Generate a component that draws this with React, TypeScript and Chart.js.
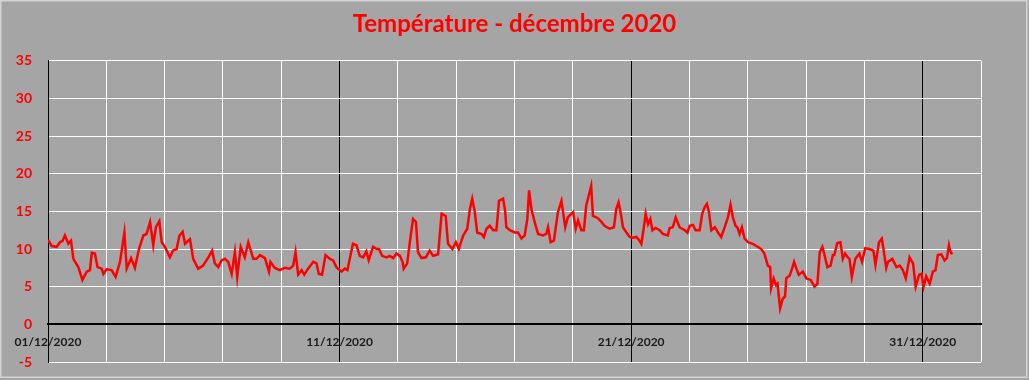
import React, { useEffect, useRef } from "react";
import { Chart, registerables } from "chart.js";

Chart.register(...registerables);

const chartTitle = "Température - décembre 2020";
const dateLabels = ["01/12/2020", "11/12/2020", "21/12/2020", "31/12/2020"];

// time in days since 01/12/2020 00:00
const days = [
  0.00, 0.13, 0.30, 0.41, 0.50, 0.58, 0.70, 0.79, 0.87, 1.04, 1.18, 1.33, 1.44, 1.50, 1.61, 1.70, 1.84, 1.90,
  2.01, 2.18, 2.32, 2.47, 2.62, 2.70, 2.85, 2.98, 3.12, 3.27, 3.38, 3.50, 3.61, 3.70, 3.82, 3.90,
  4.01, 4.18, 4.29, 4.41, 4.51, 4.62, 4.70, 4.87, 4.98, 5.15, 5.32, 5.50, 5.63, 5.72, 5.84, 5.95,
  6.07, 6.18, 6.30, 6.41, 6.49, 6.61, 6.75, 6.87, 7.04, 7.15, 7.27, 7.44, 7.58, 7.63, 7.78, 7.95,
  8.12, 8.29, 8.41, 8.49, 8.58, 8.70, 8.79, 8.92, 9.10, 9.21, 9.29, 9.40, 9.52, 9.67, 9.78, 9.89,
  10.07, 10.18, 10.27, 10.35, 10.46, 10.58, 10.69, 10.81, 10.92, 11.00, 11.15, 11.27, 11.35, 11.46, 11.61, 11.72, 11.84, 11.95,
  12.07, 12.16, 12.20, 12.32, 12.41, 12.52, 12.62, 12.69, 12.81, 12.96, 13.09, 13.21, 13.38, 13.50, 13.64, 13.72, 13.87, 13.99,
  14.09, 14.24, 14.38, 14.47, 14.55, 14.64, 14.72, 14.87, 14.95, 15.04, 15.15, 15.27, 15.38, 15.47, 15.61, 15.68, 15.72, 15.84,
  16.01, 16.12, 16.24, 16.35, 16.44, 16.50, 16.58, 16.69, 16.81, 16.98, 17.09, 17.15, 17.24, 17.35, 17.49, 17.61, 17.74, 17.83, 17.95,
  18.01, 18.10, 18.18, 18.29, 18.38, 18.46, 18.63, 18.69, 18.86, 18.98, 19.09, 19.26, 19.41, 19.49, 19.57, 19.66, 19.72, 19.84, 19.95,
  20.06, 20.18, 20.29, 20.35, 20.43, 20.50, 20.58, 20.66, 20.73, 20.84, 20.98, 21.09, 21.26, 21.32, 21.43, 21.53, 21.66, 21.84, 21.93,
  22.01, 22.12, 22.21, 22.35, 22.44, 22.53, 22.60, 22.67, 22.75, 22.87, 22.98, 23.09, 23.21, 23.32, 23.41, 23.49, 23.58, 23.64, 23.72, 23.80, 23.89,
  24.01, 24.17, 24.34, 24.46, 24.57, 24.69, 24.77, 24.80, 24.89, 24.97, 25.02, 25.11, 25.20, 25.28, 25.32, 25.44, 25.52, 25.59, 25.67, 25.75, 25.89,
  26.01, 26.16, 26.29, 26.39, 26.47, 26.56, 26.64, 26.73, 26.84, 26.92, 26.97, 27.07, 27.18, 27.26, 27.34, 27.43, 27.49, 27.57, 27.69, 27.83, 27.92,
  28.03, 28.17, 28.31, 28.38, 28.50, 28.60, 28.67, 28.75, 28.81, 28.96, 29.10, 29.21, 29.32, 29.42, 29.55, 29.67, 29.76, 29.88, 29.96,
  30.03, 30.12, 30.24, 30.35, 30.44, 30.52, 30.64, 30.75, 30.83, 30.90, 30.94, 31.01,
];

const temps = [
  11.2, 10.4, 10.3, 10.9, 11.1, 11.8, 10.7, 11.1, 8.7, 7.6, 5.9, 7.0, 7.2, 9.5, 9.4, 7.6, 7.4, 6.7,
  7.3, 7.2, 6.3, 8.3, 12.2, 7.4, 8.8, 7.5, 10.0, 11.8, 12.0, 13.6, 10.5, 12.9, 13.7, 10.9,
  10.3, 8.9, 9.8, 10.0, 11.8, 12.3, 10.7, 11.3, 8.7, 7.4, 7.8, 8.9, 9.8, 8.1, 7.6, 8.5,
  8.7, 8.3, 6.7, 9.6, 6.3, 10.3, 8.9, 10.9, 8.7, 8.7, 9.2, 8.8, 7.0, 8.3, 7.5, 7.2,
  7.5, 7.4, 7.8, 9.6, 6.6, 7.2, 6.6, 7.4, 8.3, 8.1, 6.7, 6.6, 9.2, 8.7, 8.5, 7.6,
  7.0, 7.4, 7.2, 8.7, 10.7, 10.5, 9.1, 8.9, 9.7, 8.5, 10.3, 10.0, 10.0, 9.1, 8.9, 9.1, 8.8, 9.4,
  9.1, 8.3, 7.4, 8.1, 10.9, 14.0, 13.6, 9.6, 8.8, 8.9, 9.8, 9.1, 9.3, 14.7, 14.4, 10.7, 10.0, 10.9,
  10.0, 11.8, 12.7, 15.3, 16.7, 14.9, 12.2, 12.0, 11.6, 12.7, 13.1, 12.5, 12.5, 16.4, 16.7, 15.0, 12.9, 12.5,
  12.2, 12.2, 11.4, 11.8, 14.0, 17.8, 15.3, 13.6, 12.0, 11.8, 12.0, 12.9, 10.9, 11.1, 14.9, 16.4, 12.9, 14.2, 14.7,
  14.9, 12.7, 13.8, 12.5, 12.5, 15.8, 18.4, 14.4, 14.1, 13.6, 13.1, 12.7, 12.9, 15.3, 16.2, 14.4, 12.9, 12.2, 11.6,
  11.5, 11.6, 11.1, 10.7, 12.7, 14.7, 13.3, 14.0, 12.5, 12.8, 12.5, 12.0, 11.8, 12.8, 12.9, 14.2, 12.9, 12.5, 12.2,
  13.1, 13.2, 12.5, 12.5, 14.7, 15.6, 16.0, 14.9, 12.5, 12.9, 12.2, 11.6, 12.9, 14.2, 15.9, 14.2, 13.1, 12.9, 12.0, 12.9, 11.4,
  10.9, 10.7, 10.3, 10.0, 9.4, 7.8, 7.6, 4.8, 6.1, 5.2, 5.4, 2.1, 3.4, 3.7, 6.1, 6.5, 7.4, 8.3, 7.4, 6.6, 7.0,
  6.1, 5.9, 5.0, 5.4, 9.6, 10.3, 9.1, 7.6, 7.8, 9.2, 9.2, 10.8, 10.9, 8.7, 9.4, 8.9, 8.7, 6.3, 8.7, 9.4, 8.3,
  10.1, 10.0, 9.8, 7.9, 10.9, 11.4, 9.6, 7.5, 8.3, 8.7, 7.6, 7.8, 7.2, 6.1, 8.9, 8.1, 5.0, 6.6, 6.7,
  5.0, 6.4, 5.4, 7.0, 7.2, 9.2, 9.3, 8.5, 8.8, 10.5, 9.8, 9.3,
];

const W = 1029;
const H = 380;

const backgroundPlugin = {
  id: "bg",
  beforeDraw(chart: any) {
    const ctx = chart.ctx;
    ctx.save();
    ctx.fillStyle = "#a5a5a5";
    ctx.fillRect(0, 0, chart.width, chart.height);
    ctx.strokeStyle = "#d4d4d4";
    ctx.lineWidth = 1.5;
    ctx.strokeRect(0.75, 0.75, chart.width - 3, chart.height - 3.5);
    ctx.restore();
  },
};

export default function App() {
  const ref = useRef<HTMLCanvasElement | null>(null);

  useEffect(() => {
    if (!ref.current) return;
    const data = days.map((d, i) => ({ x: d, y: temps[i] }));
    const chart = new Chart(ref.current, {
      type: "line",
      data: {
        datasets: [
          {
            data,
            borderColor: "#ff0000",
            borderWidth: 2.5,
            pointRadius: 0,
            tension: 0,
            fill: false,
          },
        ],
      },
      options: {
        animation: false,
        responsive: false,
        maintainAspectRatio: false,
        layout: { padding: { left: 0, right: 0, top: 0, bottom: 18 } },
        plugins: {
          legend: { display: false },
          tooltip: { enabled: false },
          title: {
            display: true,
            text: chartTitle,
            color: "#ff0000",
            font: { family: "Lato", size: 24, weight: "bold" },
            padding: { top: 10, bottom: 22 },
          },
        },
        scales: {
          x: {
            type: "linear",
            position: { y: 0 } as any,
            min: 0,
            max: 32,
            afterFit: (s: any) => {
              s.height = 0;
            },
            afterBuildTicks: (s: any) => {
              const t = [];
              for (let v = 0; v <= 32; v += 2) t.push({ value: v });
              s.ticks = t;
            },
            ticks: {
              autoSkip: false,
              maxRotation: 0,
              padding: 11,
              color: "#1a1a1a",
              font: { family: "Lato", size: 12, weight: "bold" },
              callback: (v: any) => (Number(v) % 10 === 0 ? dateLabels[Number(v) / 10] ?? "" : ""),
            },
            grid: {
              drawTicks: false,
              color: (c: any) => (c.tick && c.tick.value % 10 === 0 ? "#000000" : "#ffffff"),
              lineWidth: 1,
            },
            border: { display: true, color: "#000000", width: 2 },
          },
          y: {
            type: "linear",
            position: "left",
            min: -5,
            max: 35,
            afterFit: (s: any) => {
              s.width = 48;
            },
            ticks: {
              stepSize: 5,
              padding: 0,
              color: "#ff0000",
              font: { family: "Lato", size: 14, weight: "bold" },
            },
            grid: {
              drawTicks: true,
              tickLength: 16,
              tickColor: "rgba(0,0,0,0)",
              color: "#ffffff",
              lineWidth: 1,
            },
            border: { display: true, color: "#000000", width: 1 },
          },
          yRight: {
            type: "linear",
            position: "right",
            min: -5,
            max: 35,
            afterFit: (s: any) => {
              s.width = 48;
            },
            ticks: { display: false, padding: 0 },
            grid: { display: false, drawTicks: false },
            border: { display: false },
          },
        },
      },
      plugins: [backgroundPlugin],
    });
    return () => chart.destroy();
  }, []);

  return (
    <div style={{ position: "fixed", left: 0, top: 0, width: W, height: H }}>
      <canvas ref={ref} width={W} height={H} />
    </div>
  );
}
